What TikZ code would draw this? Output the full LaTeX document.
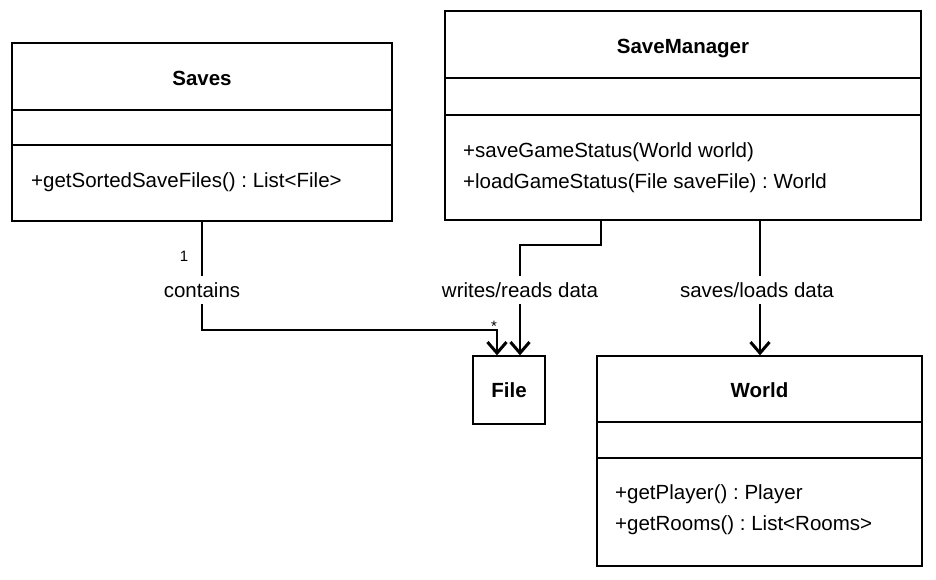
\documentclass[tikz,border=0pt]{standalone}
\usepackage{fontspec}
\setmainfont{Liberation Sans}
\usepackage{tikz}
\usetikzlibrary{arrows.meta, positioning}
\frenchspacing

\tikzset{
	classbox/.style={draw, line width=1.3pt, inner sep=0pt},
	classname/.style={font=\fontsize{20.5}{25}\selectfont\bfseries, inner sep=0pt},
	classtext/.style={font=\fontsize{20.5}{31}\selectfont, anchor=west, align=left, inner sep=0pt},
	assoc/.style={line width=1.3pt, -{Straight Barb[length=11pt, width=19pt, line width=3pt]}},
	assoclabel/.style={font=\fontsize{20.5}{25}\selectfont, fill=white, inner xsep=2pt, inner ysep=6pt},
	multlabel/.style={font=\fontsize{15}{18}\selectfont, inner sep=0pt}
}

\begin{document}
\begin{tikzpicture}[x=1pt,y=-1pt]
		\useasboundingbox (0,0) rectangle (936,580);

		%Class: Saves
		\node [classbox, minimum width=380pt, minimum height=178pt] (saves) at (202,132) {};
		\draw [line width=1.3pt] (saves.west |- 0,110) -- (saves.east |- 0,110);
		\draw [line width=1.3pt] (saves.west |- 0,145) -- (saves.east |- 0,145);
		\node [classname] (savesname) at (202,78) {Saves};
		\node [classtext] (savesops) at (31,182) {+getSortedSaveFiles() : List<File>};

		%Class: SaveManager
		\node [classbox, minimum width=476pt, minimum height=209pt] (manager) at (683,115.5) {};
		\draw [line width=1.3pt] (manager.west |- 0,78) -- (manager.east |- 0,78);
		\draw [line width=1.3pt] (manager.west |- 0,115) -- (manager.east |- 0,115);
		\node [classname] (managername) at (683,49) {SaveManager};
		\node [classtext] (managerops) at (463,167.5) {+saveGameStatus(World world)\\+loadGameStatus(File saveFile) : World};

		%Class: World
		\node [classbox, minimum width=325pt, minimum height=210pt] (world) at (759.5,461) {};
		\draw [line width=1.3pt] (world.west |- 0,422) -- (world.east |- 0,422);
		\draw [line width=1.3pt] (world.west |- 0,458) -- (world.east |- 0,458);
		\node [classname] (worldname) at (759.5,390) {World};
		\node [classtext] (worldops) at (615,509.5) {+getPlayer() : Player\\+getRooms() : List<Rooms>};

		%Class: File
		\node [classbox, minimum width=72pt, minimum height=68pt, classname] (file) at (509,390) {File};

		% Connector ends
		\coordinate (fileinL) at ([xshift=-12pt]file.north);
		\coordinate (fileinR) at ([xshift=11pt]file.north);
		\coordinate (managerL) at ([xshift=-82pt]manager.south);
		\coordinate (managerR) at (760,220);

		%Saves -> File
		\draw [assoc] (saves.south) |- (fileinL |- 0,330) -- (fileinL);
		\node [assoclabel] (contains) at (saves.south |- 0,290) {contains};
		\node [multlabel] (one) at (184,256) {1};
		\node [multlabel] (many) at (494,326) {*};

		%SaveManager -> File
		\draw [assoc] (managerL) -- (managerL |- 0,245) -| (fileinR);
		\node [assoclabel] (writes) at (fileinR |- 0,290) {writes/reads data};

		%SaveManager -> World
		\draw [assoc] (managerR) -- (managerR |- world.north);
		\node [assoclabel] (saveslbl) at (757,290) {saves/loads data};
\end{tikzpicture}
\end{document}
